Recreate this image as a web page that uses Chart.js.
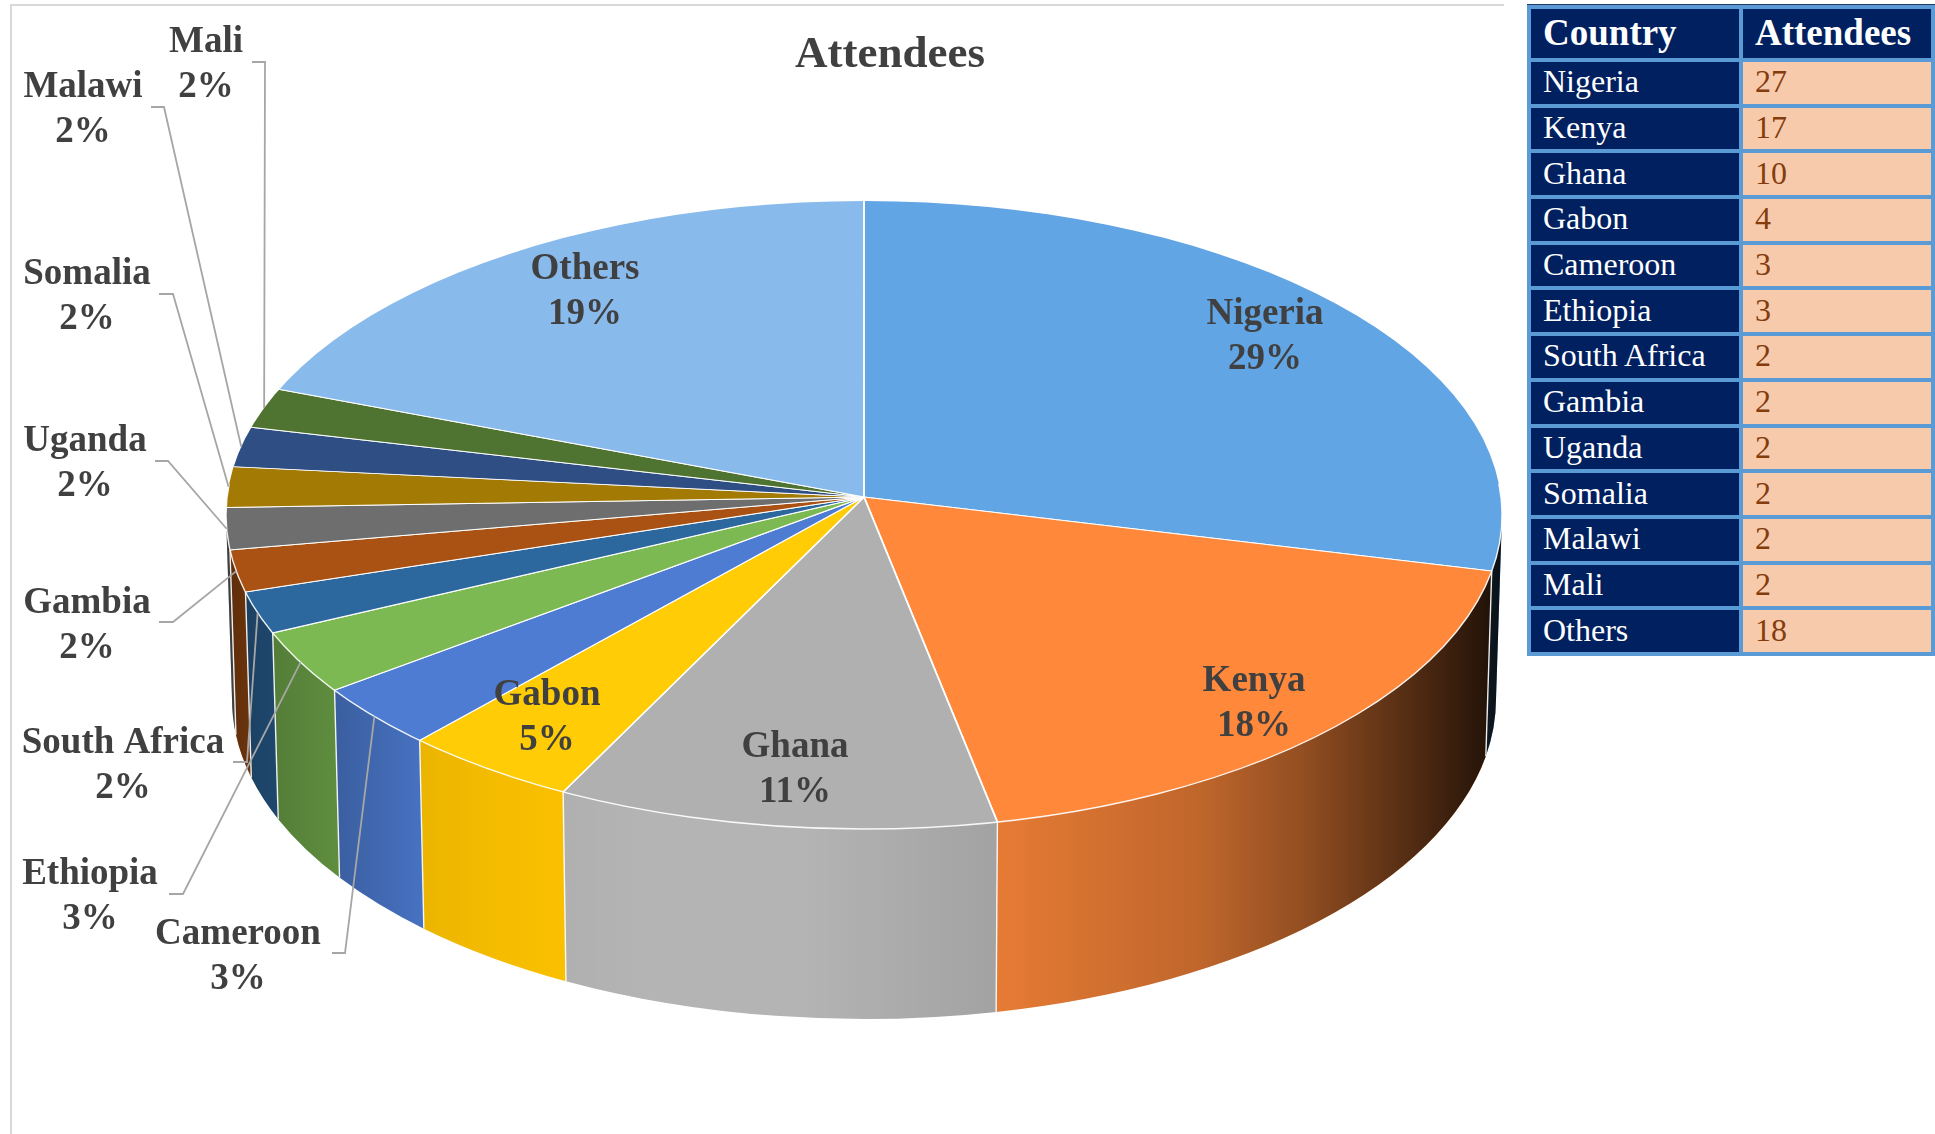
<!DOCTYPE html>
<html>
<head>
<meta charset="utf-8">
<title>Attendees</title>
<script src="https://cdn.jsdelivr.net/npm/chart.js"></script>
<style>
	html, body { margin: 0; padding: 0; background: #fff; overflow: hidden; }
	body { width: 1935px; height: 1134px; position: relative; }
	#frame { position: absolute; left: 10px; top: 4px; width: 1492px; height: 1130px; border-top: 2px solid #d9d9d9; border-left: 2px solid #d9d9d9; }
	#pie { position: absolute; left: 0; top: 0; }
	#attendees {
		position: absolute; left: 1527px; top: 4px; width: 408px;
		border-collapse: separate; border-spacing: 4px; table-layout: fixed;
		background: #5b9bd5; border-top: 1px solid #1f3864;
		font-family: "Liberation Serif", serif; font-size: 32px; line-height: 1;
	}
	#attendees th, #attendees td { box-sizing: border-box; padding: 0 0 3px 12px; text-align: left; overflow: hidden; white-space: nowrap; }
	#attendees th { height: 49px; background: #002060; color: #fff; font-size: 37px; font-weight: bold; }
	#attendees td { height: 41.7px; }
	#attendees td.name { background: #002060; color: #fff; }
	#attendees td.count { background: #f7caac; color: #843c0c; }
</style>
</head>
<body>
<div id="frame"></div>
<canvas id="pie" width="1935" height="1134"></canvas>
<table id="attendees">
	<colgroup><col style="width:208px"><col style="width:188px"></colgroup>
	<thead><tr><th>Country</th><th>Attendees</th></tr></thead>
	<tbody></tbody>
</table>
<script>
const countries = ["Nigeria", "Kenya", "Ghana", "Gabon", "Cameroon", "Ethiopia", "South Africa", "Gambia", "Uganda", "Somalia", "Malawi", "Mali", "Others"];
const attendees = [27, 17, 10, 4, 3, 3, 2, 2, 2, 2, 2, 2, 18];
const percentLabels = ["29%", "18%", "11%", "5%", "3%", "3%", "2%", "2%", "2%", "2%", "2%", "2%", "19%"];
const sliceColors = ["#62a5e4", "#ff883a", "#b0b0b0", "#ffcc05", "#4d7cd2", "#7cb952", "#2c689e", "#aa5213", "#6e6e6e", "#a37b04", "#2e4e84", "#4f7330", "#88baeb"];
const wallColors = ["#62a5e4", "#ff883a", "#b4b4b4", "#ffc400", "#4d7cd2", "#7cb952", "#2c689e", "#aa5213", "#6e6e6e", "#a37b04", "#2e4e84", "#4f7330", "#88baeb"];

// Label layout: centre x, first baseline, and for outside labels the leader elbow [x0, x1, y]
const labelLayout = [
	{ x: 1265, y: 324 },
	{ x: 1254, y: 691 },
	{ x: 795, y: 757 },
	{ x: 547, y: 705 },
	{ x: 238, y: 944, elbow: [332, 345, 953] },
	{ x: 90, y: 884, elbow: [169, 183, 894] },
	{ x: 123, y: 753, elbow: [233, 247, 762] },
	{ x: 87, y: 613, elbow: [159, 173, 622] },
	{ x: 85, y: 451, elbow: [155, 168, 461] },
	{ x: 87, y: 284, elbow: [159, 173, 294] },
	{ x: 83, y: 97, elbow: [151, 164, 107] },
	{ x: 206, y: 52, elbow: [252, 265, 62] },
	{ x: 585, y: 279 },
];

// Solid geometry of the tilted disc, in canvas pixels
const APEX = { x: 864, y: 497 };
const TOP_FACE = { x: 864, y: 515, rx: 638, ry: 314 };
const BOTTOM_FACE = { x: 864, y: 699, rx: 632, ry: 320 };
const REACH_BACK = 305;
const REACH_FRONT = 316;
const OVERSHOOT = 1.2;

// Darkening of the side wall across the width of the disc: [x, brightness]
const WALL_LIGHT = [[228, 0.55], [260, 0.66], [340, 0.77], [424, 0.92], [500, 0.96], [650, 1], [800, 1], [900, 0.95], [997, 0.9], [1200, 0.75], [1300, 0.58], [1400, 0.35], [1480, 0.16], [1502, 0.1]];

const SERIF = '"Liberation Serif", serif';
const TEXT_COLOR = "#404040";

function rimAngle(arcAngle) {
	const dx = Math.cos(arcAngle) * TOP_FACE.rx;
	const dy = Math.sin(arcAngle) * (Math.sin(arcAngle) < 0 ? REACH_BACK : REACH_FRONT);
	const ox = APEX.x - TOP_FACE.x;
	const oy = APEX.y - TOP_FACE.y;
	const a = (dx * dx) / TOP_FACE.rx ** 2 + (dy * dy) / TOP_FACE.ry ** 2;
	const b = 2 * ((ox * dx) / TOP_FACE.rx ** 2 + (oy * dy) / TOP_FACE.ry ** 2);
	const c = (ox * ox) / TOP_FACE.rx ** 2 + (oy * oy) / TOP_FACE.ry ** 2 - 1;
	const t = (-b + Math.sqrt(b * b - 4 * a * c)) / (2 * a);
	return Math.atan2((oy + t * dy) / TOP_FACE.ry, (ox + t * dx) / TOP_FACE.rx);
}

function onEllipse(e, phi) {
	return { x: e.x + e.rx * Math.cos(phi), y: e.y + e.ry * Math.sin(phi) };
}

function unwrap(phi) {
	// angles run from the back of the disc, clockwise; keep them increasing past pi
	return phi < -Math.PI / 2 ? phi + 2 * Math.PI : phi;
}

function drawWalls(ctx, arcs) {
	const shade = ctx.createLinearGradient(WALL_LIGHT[0][0], 0, WALL_LIGHT[WALL_LIGHT.length - 1][0], 0);
	const span = WALL_LIGHT[WALL_LIGHT.length - 1][0] - WALL_LIGHT[0][0];
	for (const [x, light] of WALL_LIGHT) {
		shade.addColorStop((x - WALL_LIGHT[0][0]) / span, `rgba(0, 0, 0, ${1 - light})`);
	}

	// only the part of each slice between the two side extremes of the disc faces the viewer
	const edges = [];
	arcs.forEach((arc, index) => {
		if (index === arcs.length - 1) return;
		const from = Math.max(unwrap(rimAngle(arc.startAngle)), 0);
		const to = unwrap(rimAngle(arc.endAngle));
		if (to <= 0 || from >= Math.PI) return;
		const end = Math.min(to, Math.PI);

		ctx.beginPath();
		ctx.ellipse(TOP_FACE.x, TOP_FACE.y, TOP_FACE.rx, TOP_FACE.ry, 0, from, end);
		ctx.ellipse(BOTTOM_FACE.x, BOTTOM_FACE.y, BOTTOM_FACE.rx, BOTTOM_FACE.ry, 0, end, from, true);
		ctx.closePath();
		ctx.fillStyle = wallColors[index];
		ctx.fill();
		ctx.fillStyle = shade;
		ctx.fill();
		if (end === to) edges.push(to);
	});

	ctx.strokeStyle = "rgba(255, 255, 255, 0.9)";
	ctx.lineWidth = 1.4;
	for (const phi of edges) {
		const top = onEllipse(TOP_FACE, phi);
		const bottom = onEllipse(BOTTOM_FACE, phi);
		ctx.beginPath();
		ctx.moveTo(top.x, top.y);
		ctx.lineTo(bottom.x, bottom.y);
		ctx.stroke();
	}
}

function drawFace(ctx, arcs, chart) {
	const radius = arcs[0].outerRadius;
	const halves = [
		{ y: 0, h: APEX.y, reach: REACH_BACK },
		{ y: APEX.y, h: chart.height - APEX.y, reach: REACH_FRONT },
	];

	ctx.save();
	ctx.beginPath();
	ctx.ellipse(TOP_FACE.x, TOP_FACE.y, TOP_FACE.rx, TOP_FACE.ry, 0, 0, Math.PI * 2);
	ctx.clip();
	for (const half of halves) {
		ctx.save();
		ctx.beginPath();
		ctx.rect(0, half.y, chart.width, half.h);
		ctx.clip();
		ctx.translate(APEX.x, APEX.y);
		ctx.scale((OVERSHOOT * TOP_FACE.rx) / radius, (OVERSHOOT * half.reach) / radius);
		ctx.translate(-arcs[0].x, -arcs[0].y);
		for (const arc of arcs) arc.draw(ctx, chart.chartArea);
		ctx.restore();
	}
	ctx.restore();

	// thin light rim along the front of the face
	ctx.beginPath();
	ctx.ellipse(TOP_FACE.x, TOP_FACE.y, TOP_FACE.rx, TOP_FACE.ry, 0, -0.1, Math.PI + 0.1);
	ctx.strokeStyle = "rgba(255, 255, 255, 0.9)";
	ctx.lineWidth = 1.4;
	ctx.stroke();
}

function drawLabels(ctx, arcs) {
	ctx.strokeStyle = "#a6a6a6";
	ctx.lineWidth = 1.8;
	labelLayout.forEach((label, index) => {
		if (!label.elbow) return;
		const [x0, x1, y] = label.elbow;
		const arc = arcs[index];
		const rim = onEllipse(TOP_FACE, rimAngle((arc.startAngle + arc.endAngle) / 2));
		ctx.beginPath();
		ctx.moveTo(x0, y);
		ctx.lineTo(x1, y);
		ctx.lineTo(rim.x, rim.y);
		ctx.stroke();
	});

	ctx.font = `bold 37px ${SERIF}`;
	ctx.fillStyle = TEXT_COLOR;
	ctx.textAlign = "center";
	ctx.textBaseline = "alphabetic";
	labelLayout.forEach((label, index) => {
		ctx.fillText(countries[index], label.x, label.y);
		ctx.fillText(percentLabels[index], label.x, label.y + 45);
	});
}

const tiltedPie = {
	id: "tiltedPie",
	beforeDatasetsDraw(chart) {
		const ctx = chart.ctx;
		const arcs = chart.getDatasetMeta(0).data;
		ctx.save();
		drawWalls(ctx, arcs);
		drawFace(ctx, arcs, chart);
		drawLabels(ctx, arcs);
		ctx.restore();
		return false;
	},
};

new Chart(document.getElementById("pie").getContext("2d"), {
	type: "pie",
	data: {
		labels: countries,
		datasets: [{
			data: attendees,
			backgroundColor: sliceColors,
			borderColor: "#ffffff",
			borderWidth: 1.3,
		}],
	},
	options: {
		responsive: false,
		animation: false,
		layout: { padding: { right: 155 } },
		plugins: {
			legend: { display: false },
			tooltip: { enabled: false },
			title: {
				display: true,
				text: "Attendees",
				color: TEXT_COLOR,
				font: { family: SERIF, size: 45, weight: "bold" },
				padding: { top: 28, bottom: 0 },
			},
		},
	},
	plugins: [tiltedPie],
});

const tableBody = document.querySelector("#attendees tbody");
countries.forEach((country, index) => {
	const row = tableBody.insertRow();
	const name = row.insertCell();
	name.className = "name";
	name.textContent = country;
	const count = row.insertCell();
	count.className = "count";
	count.textContent = attendees[index];
});
</script>
</body>
</html>
